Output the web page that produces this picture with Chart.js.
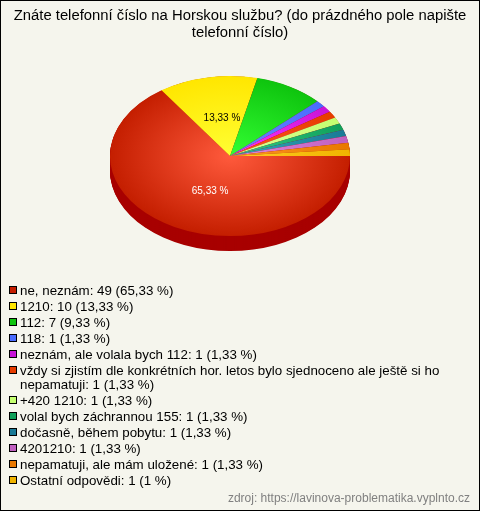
<!DOCTYPE html>
<html>
<head>
<meta charset="utf-8">
<script src="https://cdn.jsdelivr.net/npm/chart.js@4"></script>
<style>
html, body { margin: 0; padding: 0; background: #f5f5ed; }
#wrap { position: relative; width: 480px; height: 511px; overflow: hidden; font-family: "Liberation Sans", Arial, sans-serif; }
#wrap::after { content: ''; position: absolute; inset: 0; border: 1px solid #000; pointer-events: none; }
canvas { position: absolute; left: 0; top: 0; }
#title { position: absolute; left: 0; width: 480px; top: 7px; text-align: center; font-size: 14.83px; line-height: 17px; color: #000; }
#legend { position: absolute; left: 8px; top: 284px; width: 466px; font-size: 13.33px; line-height: 14px; color: #000; }
#legend div { position: relative; padding-left: 12px; margin-bottom: 2px; }
#legend i { position: absolute; left: 1px; top: 2px; width: 6px; height: 6px; border: 1px solid #000; }
#source { position: absolute; right: 10px; top: 491px; font-size: 12px; line-height: 14px; color: #808080; }
</style>
</head>
<body>
<div id="wrap">
  <canvas id="pie" width="480" height="511"></canvas>
  <div id="title">Znáte telefonní číslo na Horskou službu? (do prázdného pole napište<br>telefonní číslo)</div>
  <div id="legend"></div>
  <div id="source">zdroj: https://lavinova-problematika.vyplnto.cz</div>
</div>
<script>
const labels = ['ne, neznám', '1210', '112', '118', 'neznám, ale volala bych 112',
    'vždy si zjistím dle konkrétních hor. letos bylo sjednoceno ale ještě si ho nepamatuji',
    '+420 1210', 'volal bych záchrannou 155', 'dočasně, během pobytu', '4201210',
    'nepamatuji, ale mám uložené', 'Ostatní odpovědi'];
const counts = [49, 10, 7, 1, 1, 1, 1, 1, 1, 1, 1, 1];
const percents = ['65,33', '13,33', '9,33', '1,33', '1,33', '1,33', '1,33', '1,33', '1,33', '1,33', '1,33', '1'];

const edgeColors = ['#c41e00', '#ffe600', '#0ec40e', '#4a6cff', '#c814d8', '#e63c00', '#c4ff70', '#10a05a', '#1a7a96', '#c060c0', '#e87800', '#f0b400'];
const centerColors = ['#ff5a3c', '#ffff33', '#33ff33', '#6688ff', '#ff33ff', '#ff5522', '#ddff99', '#33cc88', '#33aabb', '#dd88dd', '#ff9922', '#ffcc22'];

const squash = 2 / 3;   // pie is drawn as a circle, then flattened
const depth = 15;
const depthColor = '#a80000';

// legend
const legendBox = document.getElementById('legend');
labels.forEach((label, i) => {
    const row = document.createElement('div');
    row.innerHTML = `<i style="background:${edgeColors[i]}"></i>${label}: ${counts[i]} (${percents[i]} %)`;
    legendBox.appendChild(row);
});

function sliceGradient(context) {
    const { chart, dataIndex } = context;
    const area = chart.chartArea;
    if (!area) return edgeColors[dataIndex];
    const cx = (area.left + area.right) / 2;
    const cy = (area.top + area.bottom) / 2;
    const g = chart.ctx.createRadialGradient(cx, cy, 0, cx, cy, area.width / 2);
    g.addColorStop(0, centerColors[dataIndex]);
    g.addColorStop(1, edgeColors[dataIndex]);
    return g;
}

// Flatten the pie and add the side wall under it
const Pie3d = {
    id: 'pie3d',
    beforeDatasetsDraw(chart) {
        const { ctx } = chart;
        const arcs = chart.getDatasetMeta(0).data;
        const cy = arcs[0].y;
        ctx.save();
        ctx.translate(0, cy);
        ctx.scale(1, squash);
        ctx.translate(0, -cy);
        ctx.fillStyle = depthColor;
        for (let d = depth / squash; d > 0; d--) {
            arcs.forEach(a => {
                ctx.beginPath();
                ctx.moveTo(a.x, a.y + d);
                ctx.arc(a.x, a.y + d, a.outerRadius, a.startAngle, a.endAngle);
                ctx.closePath();
                ctx.fill();
            });
        }
    },
    afterDatasetsDraw(chart) {
        const { ctx } = chart;
        ctx.restore();
        // percent labels, only on the big slices
        ctx.font = '10px "Liberation Sans", Arial, sans-serif';
        ctx.textAlign = 'center';
        ctx.textBaseline = 'middle';
        chart.getDatasetMeta(0).data.forEach((a, i) => {
            if (counts[i] < 10) return;
            const mid = (a.startAngle + a.endAngle) / 2;
            ctx.fillStyle = i === 0 ? '#fff' : '#000';
            ctx.fillText(`${percents[i]} %`, a.x + Math.cos(mid) * 43, a.y + 1 + Math.sin(mid) * 39);
        });
    }
};

new Chart(document.getElementById('pie'), {
    type: 'pie',
    data: {
        labels,
        datasets: [{
            data: counts,
            backgroundColor: sliceGradient,
            borderWidth: 0
        }]
    },
    options: {
        responsive: false,
        animation: false,
        rotation: 90,
        layout: { padding: { left: 110, right: 130, top: 36, bottom: 235 } },
        plugins: {
            legend: { display: false },
            title: { display: false },
            tooltip: { enabled: false }
        }
    },
    plugins: [Pie3d]
});
</script>
</body>
</html>
